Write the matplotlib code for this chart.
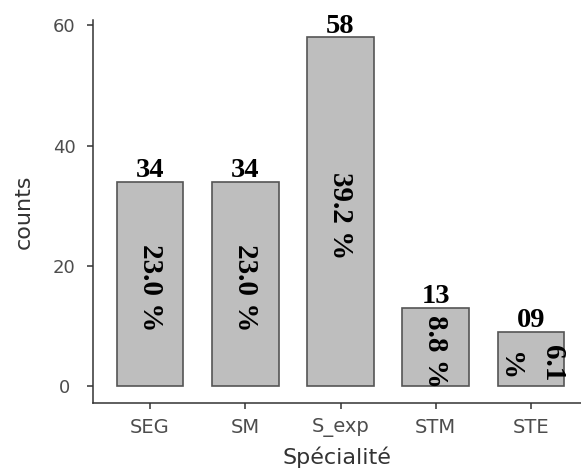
import matplotlib
matplotlib.use("Agg")
import matplotlib.pyplot as plt

categories = ["SEG", "SM", "S_exp", "STM", "STE"]
counts = [34, 34, 58, 13, 9]
count_labels = ["34", "34", "58", "13", "09"]
pct_labels = ["23.0 %", "23.0 %", "39.2 %", "8.8 %", "6.1\n%"]
y_ticks = [0, 20, 40, 60]

W, H = 581, 468
fig = plt.figure(figsize=(W / 100, H / 100), dpi=100)
left, right = 93, 581
top, bottom = 20, 403.4
ax = fig.add_axes([left / W, (H - bottom) / H, (right - left) / W, (bottom - top) / H])

x = list(range(1, len(categories) + 1))
ax.bar(x, counts, width=0.7, color="#BEBEBE", edgecolor="#555555", linewidth=1.2, zorder=2)

ax.set_xlim(0.4, 0.4 + (right - left) / ((588 - 93) / 5.2))
ax.set_ylim(-2.9, 60.9)

count_font = dict(family="Liberation Serif", weight="bold", size=20.5, color="black")
pct_font = dict(family="Liberation Serif", weight="bold", size=21, color="black")
for xi, c, cl, pl in zip(x, counts, count_labels, pct_labels):
    ax.annotate(cl, (xi, c), xytext=(0, 3.5), textcoords="offset points",
                ha="center", va="baseline", **count_font)
    ax.annotate(pl, (xi, c / 2), xytext=(0, -3), textcoords="offset points",
                rotation=270, ha="center", va="center",
                multialignment="right", linespacing=1.75, **pct_font)

ax.set_xticks(x)
ax.set_xticklabels(categories)
ax.set_yticks(y_ticks)

for s in ["top", "right"]:
    ax.spines[s].set_visible(False)
for s in ["left", "bottom"]:
    ax.spines[s].set_color("#333333")
    ax.spines[s].set_linewidth(1.1)

ax.tick_params(axis="both", colors="#333333", length=4.3, width=1.1,
               labelcolor="#4D4D4D")
ax.tick_params(axis="x", labelsize=14, pad=6)
ax.tick_params(axis="y", labelsize=13, pad=16.5)
for lab in ax.get_yticklabels():
    lab.set_horizontalalignment("center")
for lab in ax.get_xticklabels() + ax.get_yticklabels():
    lab.set_family("DejaVu Sans")

ax.set_xlabel("Spécialité", family="DejaVu Sans", size=16, color="#333333", labelpad=7)
ax.set_ylabel("counts", family="DejaVu Sans", size=16, color="#333333", labelpad=14)

fig.savefig("out.png", dpi=100)
